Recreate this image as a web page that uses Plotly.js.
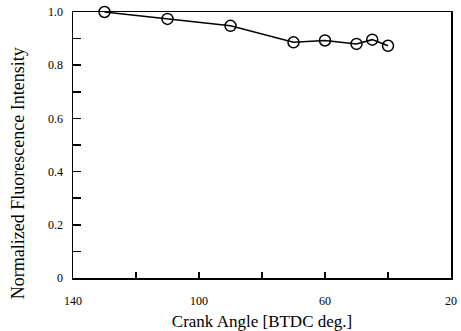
<!DOCTYPE html>
<html>
<head>
<meta charset="utf-8">
<script src="https://cdn.plot.ly/plotly-3.0.1.min.js"></script>
<style>html,body{margin:0;padding:0;background:#fff;}#chart{width:461px;height:331px;}</style>
</head>
<body>
<div id="chart"></div>
<script>
const crankAngle = [130, 110, 90, 70, 60, 50, 45, 40];
const intensity = [1.0, 0.974, 0.948, 0.886, 0.893, 0.880, 0.896, 0.873];
const xTickVals = [140, 120, 100, 80, 60, 40, 20];
const xTickText = ['140', '', '100', '', '60', '', '20'];
const yTickVals = [0, 0.1, 0.2, 0.3, 0.4, 0.5, 0.6, 0.7, 0.8, 0.9, 1.0];
const yTickText = ['0', '', '0.2', '', '0.4', '', '0.6', '', '0.8', '', '1.0'];

const font = "'Liberation Serif', 'Times New Roman', serif";
Plotly.newPlot('chart', [{
  x: crankAngle, y: intensity, type: 'scatter', mode: 'lines+markers',
  line: {color: '#000', width: 1.5},
  marker: {symbol: 'circle-open', size: 11, color: '#000', line: {width: 1.5, color: '#000'}},
  cliponaxis: false, showlegend: false
}], {
  width: 461, height: 331,
  margin: {l: 73, r: 10, t: 12, b: 53},
  paper_bgcolor: '#fff', plot_bgcolor: '#fff',
  font: {family: font, color: '#000', size: 12},
  xaxis: {
    range: [140, 20], tickmode: 'array', tickvals: xTickVals, ticktext: xTickText,
    tickfont: {family: font, size: 12, color: '#000'},
    ticks: 'inside', ticklen: 6, tickwidth: 1.5, tickcolor: '#000',
    showline: true, linecolor: '#000', linewidth: 1.5, mirror: true,
    showgrid: false, zeroline: false, ticklabelstandoff: 11,
    title: {text: 'Crank Angle [BTDC deg.]', font: {family: font, size: 17, color: '#000'}, standoff: 8}
  },
  yaxis: {
    range: [0, 1.0], tickmode: 'array', tickvals: yTickVals, ticktext: yTickText,
    tickfont: {family: font, size: 12, color: '#000'},
    ticks: 'inside', ticklen: 8, tickwidth: 1.5, tickcolor: '#000',
    showline: true, linecolor: '#000', linewidth: 1.5, mirror: true,
    showgrid: false, zeroline: false, ticklabelstandoff: 6
  },
  annotations: [{
    text: 'Normalized Fluorescence Intensity', xref: 'paper', yref: 'paper',
    x: -0.145, y: 0.5 - 28/266, xanchor: 'center', yanchor: 'middle', textangle: -90,
    showarrow: false, font: {family: font, size: 18, color: '#000'}
  }]
}, {displayModeBar: false, staticPlot: true});
</script>
</body>
</html>
